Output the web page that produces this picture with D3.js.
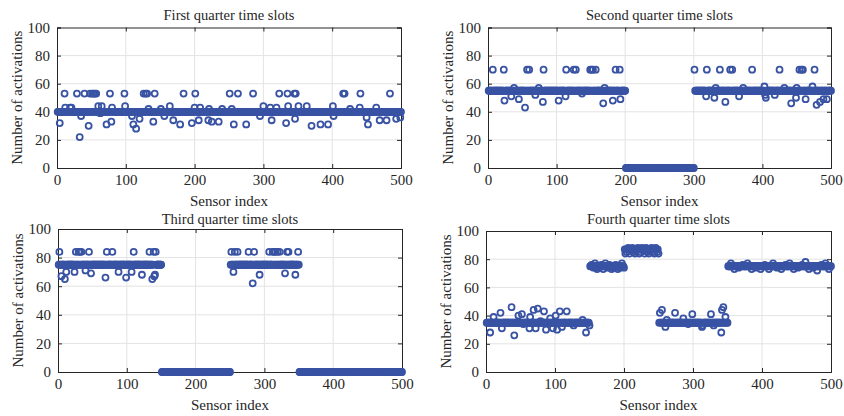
<!DOCTYPE html>
<html><head><meta charset="utf-8">
<script src="https://cdn.jsdelivr.net/npm/d3@7"></script>
<style>
html,body{margin:0;padding:0;background:#fff;}
svg text{font-family:"Liberation Serif","Times New Roman",serif;fill:#262626;}
</style></head>
<body><svg id="c" width="844" height="416"></svg>
<script>
// ---------- data ----------
const titles = ["First quarter time slots","Second quarter time slots","Third quarter time slots","Fourth quarter time slots"];
const xLabel = "Sensor index";
const yLabel = "Number of activations";
const xTicks = [0,100,200,300,400,500];
const yTicks = [0,20,40,60,80,100];
const sensorCount = 500;

// segments: [firstIndex, lastIndex, typicalValue]
const q1Segments = [[1,500,40]];
const q1Outliers = [[11,53],[29,53],[40,53],[48,53],[51,53],[53,53],[55,53],[57,53],[77,53],[98,53],[126,53],[129,53],[131,53],[142,53],[184,53],[201,53],[251,53],[263,53],[285,53],[323,53],[335,53],[345,53],[347,53],[416,53],[418,53],[441,53],[484,53],
[4,32],[33,22],[35,37],[46,30],[63,39],[72,31],[79,33],[109,37],[111,31],[115,28],[120,35],[140,33],[156,37],[169,34],[179,31],[196,32],[206,34],[220,34],[225,33],[235,33],[257,31],[275,31],[295,37],[312,34],[333,32],[346,35],[370,30],[383,31],[394,31],[402,37],[450,36],[452,31],[469,34],[479,34],[493,35],[499,36],
[12,43],[19,43],[21,43],[60,44],[65,44],[80,43],[99,44],[133,42],[151,42],[164,44],[200,43],[208,43],[221,42],[240,42],[254,42],[300,44],[310,43],[319,43],[336,44],[351,44],[363,44],[401,44],[426,42],[440,43],[464,43]];

const q2Segments = [[1,200,55],[201,300,0],[301,500,55]];
const q2Outliers = [[7,70],[23,70],[54,70],[57,70],[60,70],[81,70],[114,70],[125,70],[128,70],[149,70],[151,70],[153,70],[157,70],[186,70],[192,70],[301,70],[319,70],[338,70],[353,70],[356,70],[366,70],[385,70],[425,70],[454,70],[457,70],[459,70],[476,70],
[24,48],[34,51],[45,49],[54,43],[69,52],[80,47],[103,48],[113,51],[137,53],[168,46],[182,48],[193,49],[318,51],[330,50],[346,47],[366,51],[404,52],[405,50],[418,52],[442,46],[449,50],[463,49],[479,45],[484,47],[489,49],[494,49],
[38,57],[74,57],[170,57],[332,57],[372,57],[403,58],[432,57],[450,57],[473,58]];

const q3Segments = [[1,150,75],[151,250,0],[251,350,75],[351,500,0]];
const q3Outliers = [[2,84],[26,84],[30,84],[32,84],[34,84],[45,84],[69,84],[71,84],[79,84],[88,84],[110,84],[133,84],[139,84],[142,84],[252,84],[257,84],[261,84],[277,84],[285,84],[307,84],[312,84],[314,84],[316,84],[319,84],[322,84],[333,84],[335,84],[349,84],
[5,67],[10,65],[12,70],[24,70],[40,71],[48,69],[69,66],[88,70],[99,66],[107,70],[122,68],[137,65],[140,67],[141,68],[255,70],[283,62],[293,68],[330,69],[345,68]];

const q4Segments = [[1,150,35],[151,200,75],[201,250,87],[251,350,35],[351,500,75]];
const q4Outliers = [[6,28],[11,39],[21,42],[23,31],[37,46],[41,26],[47,40],[52,41],[54,34],[63,31],[64,39],[69,44],[72,31],[75,45],[79,36],[84,43],[87,30],[93,38],[97,31],[101,40],[103,30],[107,43],[110,32],[117,43],[127,33],[140,37],[145,28],[150,33],
[252,42],[255,44],[260,32],[262,37],[274,42],[286,38],[293,34],[299,41],[313,32],[314,33],[326,41],[330,33],[341,28],[342,44],[344,46],[347,39],
[153,76],[156,74],[158,77],[161,73],[164,74],[167,76],[170,73],[173,77],[176,74],[179,76],[182,73],[185,74],[188,76],[191,73],[194,74],[197,77],[200,74],
[202,84],[204,85],[206,88],[208,84],[210,86],[212,88],[214,85],[216,84],[218,86],[220,88],[222,84],[224,85],[226,88],[228,86],[230,84],[232,88],[234,85],[236,84],[238,86],[240,88],[242,85],[244,84],[246,88],[248,85],[250,84],
[355,77],[360,73],[366,74],[372,76],[379,77],[385,73],[391,74],[398,73],[404,76],[410,73],[416,77],[422,74],[428,73],[434,76],[440,77],[446,73],[452,74],[458,76],[463,78],[468,73],[474,74],[480,72],[486,76],[492,77],[497,73]];

const panelSegments = [q1Segments,q2Segments,q3Segments,q4Segments];
const panelOutliers = [q1Outliers,q2Outliers,q3Outliers,q4Outliers];

// ---------- layout ----------
const boxes = [
  {x0:57,x1:401,y0:27.5,y1:168,ty:20},
  {x0:488,x1:831,y0:27.5,y1:168,ty:20},
  {x0:58,x1:402,y0:229,y1:372,ty:224},
  {x0:486,x1:831,y0:231,y1:372,ty:224}
];
const color = "#3953a4";
const svg = d3.select("#c");

function buildValues(segs, outs){
  const v = new Array(sensorCount+1).fill(null);
  segs.forEach(([a,b,val])=>{ for(let i=a;i<=b;i++) v[i]=val; });
  outs.forEach(([i,val])=>{ v[i]=val; });
  const out=[];
  for(let i=1;i<=sensorCount;i++) out.push({i:i,v:v[i]});
  return out;
}

boxes.forEach((b,k)=>{
  const x = d3.scaleLinear().domain([0,500]).range([b.x0,b.x1]);
  const y = d3.scaleLinear().domain([0,100]).range([b.y1,b.y0]);
  const g = svg.append("g");
  // grid
  g.append("g").selectAll("line.gx").data(xTicks.slice(1,-1)).join("line")
    .attr("x1",d=>x(d)).attr("x2",d=>x(d)).attr("y1",b.y0).attr("y2",b.y1)
    .attr("stroke","#e3e3e3").attr("stroke-width",1);
  g.append("g").selectAll("line.gy").data(yTicks.slice(1,-1)).join("line")
    .attr("y1",d=>y(d)).attr("y2",d=>y(d)).attr("x1",b.x0).attr("x2",b.x1)
    .attr("stroke","#e3e3e3").attr("stroke-width",1);
  // axes
  const ax = g.append("g");
  ax.append("g").attr("transform",`translate(0,${b.y1})`)
    .call(d3.axisBottom(x).tickValues(xTicks).tickSize(-4).tickPadding(6).tickFormat(d3.format("d")));
  ax.append("g").attr("transform",`translate(0,${b.y0})`)
    .call(d3.axisTop(x).tickValues(xTicks).tickSize(-4).tickFormat(""));
  ax.append("g").attr("transform",`translate(${b.x0},0)`)
    .call(d3.axisLeft(y).tickValues(yTicks).tickSize(-4).tickPadding(7).tickFormat(d3.format("d")));
  ax.append("g").attr("transform",`translate(${b.x1},0)`)
    .call(d3.axisRight(y).tickValues(yTicks).tickSize(-4).tickFormat(""));
  ax.selectAll(".domain").attr("stroke","#262626").attr("stroke-width",1);
  ax.selectAll(".tick line").attr("stroke","#262626");
  ax.selectAll(".tick text").attr("font-size","15px").attr("font-family","Liberation Serif").attr("fill","#262626");
  // points
  const data = buildValues(panelSegments[k], panelOutliers[k]);
  g.append("g").selectAll("circle").data(data).join("circle")
    .attr("cx",d=>x(d.i)).attr("cy",d=>y(d.v)).attr("r",3)
    .attr("fill","none").attr("stroke",color).attr("stroke-width",1.8);
  // labels
  const cx=(b.x0+b.x1)/2, cy=(b.y0+b.y1)/2;
  g.append("text").attr("x",cx).attr("y",b.ty).attr("text-anchor","middle")
    .attr("font-size","14.5px").text(titles[k]);
  g.append("text").attr("x",cx).attr("y",b.y1+38).attr("text-anchor","middle")
    .attr("font-size","15px").text(xLabel);
  g.append("text").attr("transform",`translate(${b.x0-35},${cy}) rotate(-90)`)
    .attr("text-anchor","middle").attr("font-size","15px").text(yLabel);
});
</script></body></html>
